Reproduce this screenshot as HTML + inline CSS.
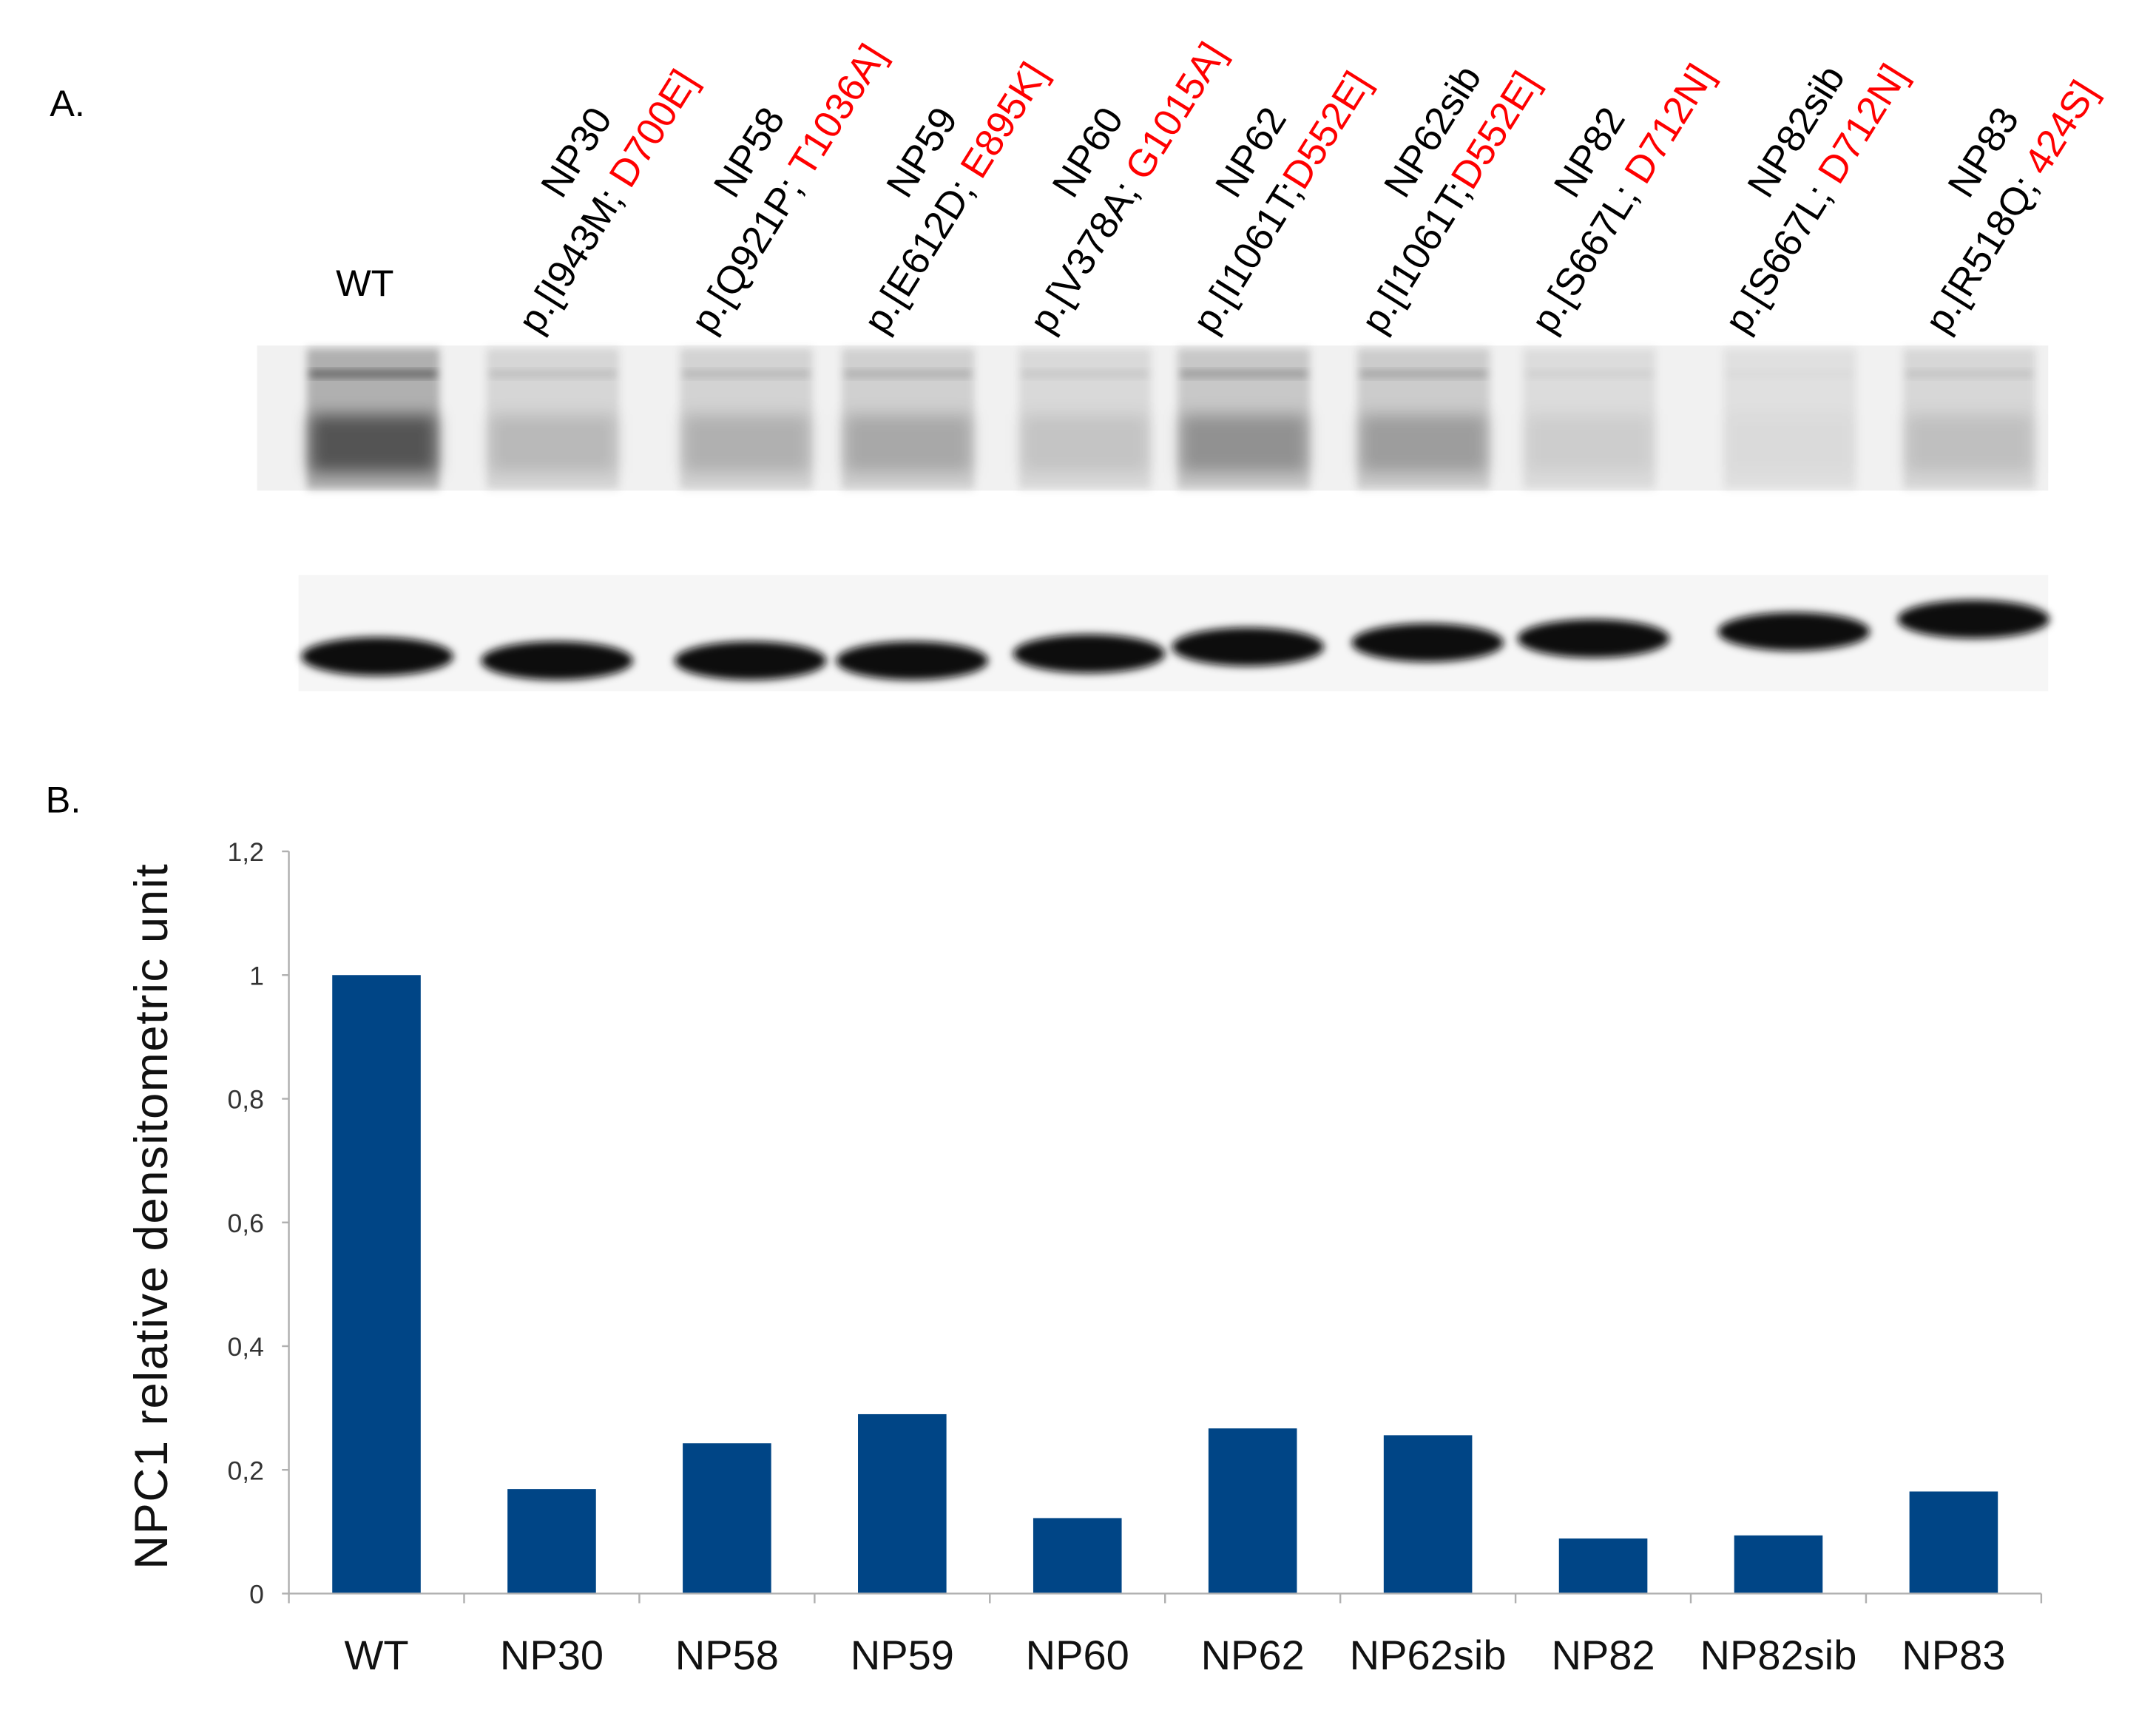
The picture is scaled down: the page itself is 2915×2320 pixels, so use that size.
<!DOCTYPE html>
<html><head><meta charset="utf-8">
<style>
html,body{margin:0;padding:0;background:#fff;}
svg{display:block;}
text{font-family:"Liberation Sans",sans-serif;}
</style></head>
<body>
<svg id="fig" width="2915" height="2320" viewBox="0 0 1560 1241.6" xmlns="http://www.w3.org/2000/svg">
<defs>
<filter id="blur3" x="-20%" y="-50%" width="140%" height="200%"><feGaussianBlur stdDeviation="3"/></filter>
<filter id="blur6" x="-20%" y="-50%" width="140%" height="200%"><feGaussianBlur stdDeviation="6"/></filter>
</defs>
<text x="36" y="84" font-size="27">A.</text>
<text x="33" y="588" font-size="27">B.</text>
<text x="243" y="214" font-size="27">WT</text>
<g id="lanelabels"></g>
<g id="blot-top"></g>
<g id="blot-bottom"></g>
<g id="chart"></g>
</svg>
<script>
const categories = ["WT","NP30","NP58","NP59","NP60","NP62","NP62sib","NP82","NP82sib","NP83"];
const values = [1, 0.169, 0.243, 0.29, 0.122, 0.267, 0.256, 0.089, 0.094, 0.165];
const yTicks = [0, 0.2, 0.4, 0.6, 0.8, 1, 1.2];
const yTickLabels = ["0","0,2","0,4","0,6","0,8","1","1,2"];
const laneNames = ["NP30","NP58","NP59","NP60","NP62","NP62sib","NP82","NP82sib","NP83"];
const laneVariants = ["p.[I943M; ","p.[Q921P; ","p.[E612D; ","p.[V378A; ","p.[I1061T;","p.[I1061T;","p.[S667L; ","p.[S667L; ","p.[R518Q; "];
const laneMutations = ["D700E]","T1036A]","E895K]","G1015A]","D552E]","D552E]","D712N]","D712N]","424S]"];
const topIntensity = [0.95,0.25,0.3,0.35,0.18,0.5,0.42,0.12,0.05,0.2];

const NS="http://www.w3.org/2000/svg";
function mk(tag,attrs,parent){const e=document.createElementNS(NS,tag);for(const k in attrs)e.setAttribute(k,attrs[k]);parent.appendChild(e);return e;}

const x0=209,x1=1477,y0=1153,yTop=616,yMax=1.2;
const band=(x1-x0)/categories.length;
const xC=i=>x0+band*(i+0.5);
const yS=v=>y0-(v/yMax)*(y0-yTop);
const chart=document.getElementById('chart');

const yAxis=mk('line',{x1:x0,y1:yTop,x2:x0,y2:y0,stroke:'#b0b0b0','stroke-width':1.3},chart);


yTicks.forEach((t,i)=>{
  const tk=mk('line',{x1:x0-5,y1:yS(t),x2:x0,y2:yS(t),stroke:'#b0b0b0','stroke-width':1.3},chart);
  
  
  const lb=mk('text',{x:x0-18,y:yS(t)+7,'text-anchor':'end','font-size':19,fill:'#333'},chart);
  lb.textContent=yTickLabels[i];
  
  
});
values.forEach((v,i)=>{
  const b=mk('rect',{x:xC(i)-32,y:yS(v),width:64,height:y0-yS(v),fill:'#004586'},chart);
  
  
  const lb=mk('text',{x:xC(i),y:1208,'text-anchor':'middle','font-size':30,fill:'#111'},chart);
  lb.textContent=categories[i];
  
  
});
const xAxis=mk('line',{x1:x0,y1:y0,x2:x1,y2:y0,stroke:'#b0b0b0','stroke-width':1.3},chart);


for(let i=0;i<=categories.length;i++){
  const tk=mk('line',{x1:x0+band*i,y1:y0,x2:x0+band*i,y2:y0+7,stroke:'#b0b0b0','stroke-width':1.3},chart);
  
  
}
const yt=mk('text',{x:0,y:0,transform:'translate(121,880) rotate(-90)','text-anchor':'middle','font-size':34,'letter-spacing':'0.8',fill:'#111'},chart);
yt.textContent='NPC1 relative densitometric unit';



const ll=document.getElementById('lanelabels');
const startX=[390,515,640,760,878,1000,1123,1263,1408];
laneNames.forEach((n,i)=>{
  const g=mk('g',{transform:'translate('+startX[i]+',243) rotate(-58)'},ll);
  
  
  const t1=mk('text',{x:92,y:-38,'font-size':28,fill:'#000'},g);
  t1.textContent=n;
  const t2=mk('text',{x:0,y:0,'font-size':28,fill:'#000'},g);
  t2.textContent=laneVariants[i];
  const ts=mk('tspan',{fill:'#f00'},t2);
  ts.textContent=laneMutations[i];
});

const bt=document.getElementById('blot-top');
mk('rect',{x:186,y:250,width:1296,height:105,fill:'#f1f1f1'},bt);
const laneX=[270,400,540,657,785,900,1030,1150,1295,1425];
laneX.forEach((cx,i)=>{
  const a=topIntensity[i];
  mk('rect',{x:cx-48,y:252,width:96,height:102,fill:'rgba(0,0,0,'+(0.06+a*0.22)+')',filter:'url(#blur3)'},bt);
  mk('rect',{x:cx-46,y:300,width:92,height:42,fill:'rgba(0,0,0,'+(a*0.55)+')',filter:'url(#blur6)'},bt);
  mk('rect',{x:cx-46,y:268,width:92,height:5,fill:'rgba(0,0,0,'+(a*0.5)+')',filter:'url(#blur3)'},bt);
});
const bb=document.getElementById('blot-bottom');
mk('rect',{x:216,y:416,width:1266,height:84,fill:'#f6f6f6'},bb);
const botY=[475,478,478,478,473,468,465,462,457,448];
laneX.forEach((cx,i)=>{
  mk('ellipse',{cx:cx+3,cy:botY[i],rx:55,ry:14,fill:'#080808',filter:'url(#blur3)'},bb);
});
</script>
</body></html>
